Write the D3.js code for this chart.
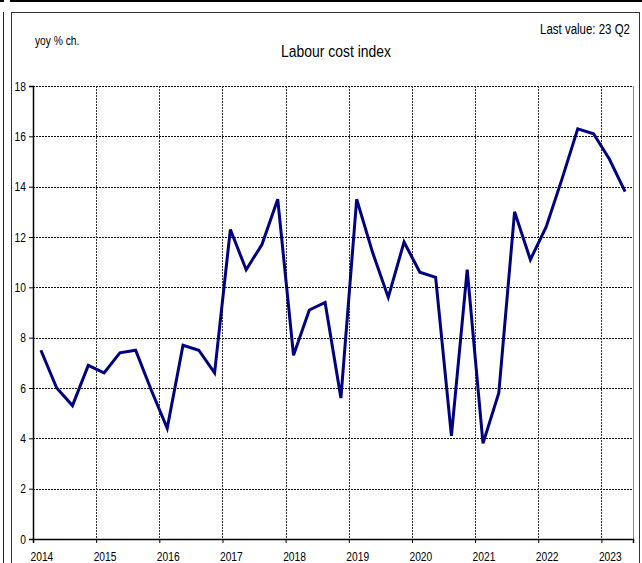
<!DOCTYPE html>
<html>
<head>
<meta charset="utf-8">
<script src="https://cdn.jsdelivr.net/npm/d3@7"></script>
<style>
body{margin:0;background:#fff;}
svg{display:block;}
text{font-family:"Liberation Sans",Arial,sans-serif;fill:#000;}
</style>
</head>
<body>
<div id="chart"></div>
<script>
// quarterly yoy % change, 2014 Q1 .. 2023 Q2
var years = [2014,2015,2016,2017,2018,2019,2020,2021,2022,2023];
var quarters = ["Q1","Q2","Q3","Q4"];
var values = [
	7.5, 6.0, 5.3, 6.9,
	6.6, 7.4, 7.5, 5.9,
	4.4, 7.7, 7.5, 6.6,
	12.3, 10.7, 11.7, 13.5,
	7.3, 9.1, 9.4, 5.6,
	13.5, 11.4, 9.6, 11.8,
	10.6, 10.4, 4.1, 10.7,
	3.8, 5.8, 13.0, 11.1,
	12.4, 14.3, 16.3, 16.1,
	15.1, 13.8
];
var yTicks = [0,2,4,6,8,10,12,14,16,18];
var title = "Labour cost index";
var unitLabel = "yoy % ch.";
var lastValue = "Last value: 23 Q2";

var W = 642, H = 563;
var svg = d3.select("#chart").append("svg").attr("width", W).attr("height", H);

// narrow font look: squeeze Liberation Sans horizontally
var squeeze = 0.82;
function narrowText(g, px, py, size, anchor, str){
	return g.append("text")
		.attr("transform", "translate(" + px + "," + py + ") scale(" + squeeze + ",1)")
		.attr("text-anchor", anchor)
		.attr("font-size", size)
		.text(str);
}

// frame lines
svg.append("line").attr("x1",10).attr("x2",W).attr("y1",1).attr("y2",1).attr("stroke","#000").attr("stroke-width",2);
svg.append("line").attr("x1",0).attr("x2",4).attr("y1",1).attr("y2",1).attr("stroke","#000").attr("stroke-width",2);
svg.append("line").attr("x1",3.5).attr("x2",3.5).attr("y1",12).attr("y2",H).attr("stroke","#222");
svg.append("rect").attr("x",11.5).attr("y",12.5).attr("width",628).attr("height",H)
	.attr("fill","none").attr("stroke","#333");

var pLeft = 33, pRight = 633, pTop = 86, pBottom = 539;

var data = values.map(function(v, i){
	return {t: years[0] + i/4 + 0.125, v: v, q: quarters[i % 4]};
});

var x = d3.scaleLinear().domain([years[0], years[years.length-1] + 0.5]).range([pLeft, pRight]);
var y = d3.scaleLinear().domain([0, 18]).range([pBottom, pTop]);

// horizontal grid
svg.append("g").selectAll("line").data(yTicks.filter(function(d){return d > 0;})).enter().append("line")
	.attr("x1", pLeft).attr("x2", pRight)
	.attr("y1", function(d){return Math.round(y(d)) + 0.5;})
	.attr("y2", function(d){return Math.round(y(d)) + 0.5;})
	.attr("stroke", "#111").attr("stroke-dasharray", "2,1");

// vertical grid
svg.append("g").selectAll("line").data(years.slice(1)).enter().append("line")
	.attr("x1", function(d){return Math.round(x(d)) + 0.5;})
	.attr("x2", function(d){return Math.round(x(d)) + 0.5;})
	.attr("y1", pTop).attr("y2", pBottom)
	.attr("stroke", "#333").attr("stroke-dasharray", "2,1");

// right edge of plot
svg.append("line").attr("x1", pRight + 0.5).attr("x2", pRight + 0.5).attr("y1", pTop).attr("y2", pBottom)
	.attr("stroke", "#888");

// y axis (ticks only, labels drawn below)
var yAxis = d3.axisLeft(y).tickValues(yTicks).tickSize(4).tickFormat("");
var gy = svg.append("g").attr("transform", "translate(" + pLeft + ",0)").call(yAxis);
gy.select(".domain").attr("stroke", "#000").attr("stroke-width", 1.5);
gy.selectAll(".tick line").attr("stroke", "#000");

var gyl = svg.append("g");
yTicks.forEach(function(d){
	narrowText(gyl, 26, y(d) + 4.5, 12.5, "end", d);
});

// x axis
var xAxis = d3.axisBottom(x).tickValues(years).tickSize(4).tickFormat("");
var gx = svg.append("g").attr("transform", "translate(0," + pBottom + ")").call(xAxis);
gx.select(".domain").attr("stroke", "#000").attr("stroke-width", 1.5);
gx.selectAll(".tick line").attr("stroke", "#000");

// year labels sit under the first quarter
var gxl = svg.append("g");
years.forEach(function(d){
	narrowText(gxl, x(d + 0.125) + 1, 561, 12.5, "middle", d);
});

// series
var line = d3.line().x(function(d){return x(d.t);}).y(function(d){return y(d.v);});
svg.append("path").datum(data).attr("d", line)
	.attr("fill", "none").attr("stroke", "#000080").attr("stroke-width", 3)
	.attr("stroke-linejoin", "miter");

// texts
narrowText(svg, 336, 57, 17, "middle", title);
narrowText(svg, 35, 45, 12.5, "start", unitLabel);
narrowText(svg, 630, 34, 14, "end", lastValue);
</script>
</body>
</html>
